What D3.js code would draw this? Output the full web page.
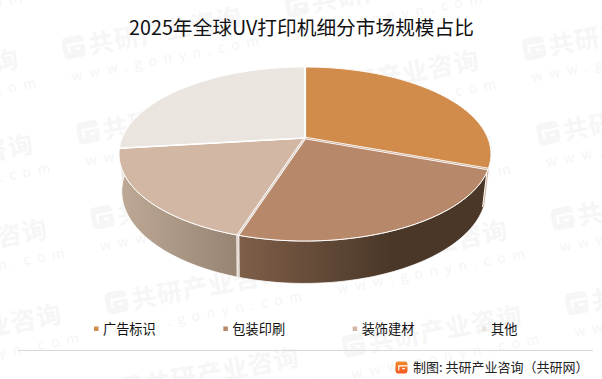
<!DOCTYPE html>
<html><head><meta charset="utf-8">
<script src="https://cdn.jsdelivr.net/npm/d3@7"></script>
<style>html,body{margin:0;padding:0;background:#fff}svg{display:block}text{font-family:"Noto Sans CJK SC","Noto Sans",sans-serif}</style>
</head><body><svg id="c" width="602" height="379"></svg>
<script>
const categories = ["广告标识","包装印刷","装饰建材","其他"];
const shares = [30.6,24.3,18.2,26.9];
const topColors = ["#d18c4c","#b8886a","#d2b7a4","#ebe5e0"];
const sideFrom = ["#4a3728","#7f5f49","#bca894","#ebe5e0"];
const sideTo = ["#4a3728","#4a3728","#978473","#ebe5e0"];
const seamColors = ["#c9a58c","#c9b5a5",null,null];
const titleText = "2025年全球UV打印机细分市场规模占比";
const sourceText = "制图: 共研产业咨询（共研网）";

const svg = d3.select("#c");
const defs = svg.append("defs");

// watermark lattice
const wm = svg.append("g");
const colStep = [223,-42], rowStep = [14.3,85];
function drawLogoShape(g, size, fill, cut){
  g.append("rect").attr("width",size).attr("height",size).attr("rx",size*0.2).attr("fill",fill);
  const s = d3.scaleLinear().domain([0,1]).range([0,size]);
  g.append("path").attr("fill","none").attr("stroke",cut).attr("stroke-width",Math.max(1.1,size*0.1))
    .attr("d",`M${s(.27)},${s(.74)}V${s(.36)}H${s(1.02)}M${s(.56)},${s(.6)}H${s(.78)}`);
}
for(let c=-1;c<=2;c++) for(let r=-1;r<=4;r++){
  const x = 65 + c*colStep[0] + r*rowStep[0];
  const y = 60 + c*colStep[1] + r*rowStep[1];
  const g = wm.append("g").attr("transform",`translate(${x},${y}) rotate(-10.7)`);
  const lg = g.append("g").attr("transform","translate(0,-22)");
  drawLogoShape(lg,22,"#f6f6f6","#fff");
  g.append("text").attr("x",26).attr("y",-1).attr("font-size",25).attr("font-weight",700).attr("letter-spacing",1)
    .attr("fill","#f6f6f6").text("共研产业咨询");
  g.append("text").attr("x",3).attr("y",22).attr("font-size",14).attr("letter-spacing",6.8)
    .attr("fill","#f5f5f5").text("www.gonyn.com");
}

// title
svg.append("text").attr("x",301.5).attr("y",35).attr("text-anchor","middle").attr("font-size",19.7)
  .attr("fill","#111").text(titleText);

// perspective disc
const cx=305, cy=138, b=182.8, a=84.06, k=0.184;
const shrink=0.98, lift=36.3, botShift=-1;
const projTop = t=>{const u=Math.sin(t),v=-Math.cos(t),w=1-k*v;return [cx+b*u/w, cy+a*v/w];};
const projBot = t=>{const u=Math.sin(t),v=-Math.cos(t),w=1-k*v;return [cx+botShift+b*shrink*u/w, cy+(a*shrink*v+lift)/w];};
const line = d3.line();
const arcs = d3.pie().sort(null).startAngle(0).endAngle(2*Math.PI)(shares);
const steps = d=>d3.range(0,61).map(i=>d.startAngle+(d.endAngle-d.startAngle)*i/60);

const chart = svg.append("g");
// sides
arcs.forEach((d,i)=>{
  const id="sg"+i;
  const gr=defs.append("linearGradient").attr("id",id).attr("gradientUnits","userSpaceOnUse")
    .attr("x1",i===2?122:238).attr("x2",i===2?237:392).attr("y1",0).attr("y2",0);
  gr.append("stop").attr("offset",0).attr("stop-color",sideFrom[i]);
  gr.append("stop").attr("offset",1).attr("stop-color",sideTo[i]);
  const ts=steps(d);
  const pts=ts.map(projTop).concat(ts.slice().reverse().map(projBot));
  chart.append("path").attr("d",line(pts)+"Z").attr("fill",`url(#${id})`)
    .attr("stroke","#fff").attr("stroke-width",0.8).attr("stroke-linejoin","round");
});
// side seams at the front-facing boundaries
arcs.forEach((d,i)=>{
  if(!seamColors[i]) return;
  const seg=[projTop(d.endAngle),projBot(d.endAngle)];
  chart.append("path").attr("d",line(seg)).attr("stroke","#fff").attr("stroke-width",3).attr("fill","none");
  chart.append("path").attr("d",line(seg)).attr("stroke",seamColors[i]).attr("stroke-width",0.9).attr("fill","none");
});
// top faces
arcs.forEach((d,i)=>{
  const pts=[[cx,cy]].concat(steps(d).map(projTop));
  chart.append("path").attr("d",line(pts)+"Z").attr("fill",topColors[i])
    .attr("stroke","#fff").attr("stroke-width",1).attr("stroke-linejoin","round");
});
// boundaries on the top face
arcs.forEach((d,i)=>{
  const seg=[[cx,cy],projTop(d.endAngle)];
  const wide=seamColors[i]?2.6:(i===3?2.2:1.5);
  chart.append("path").attr("d",line(seg)).attr("stroke","#fff").attr("stroke-width",wide).attr("fill","none");
  if(seamColors[i]) chart.append("path").attr("d",line(seg)).attr("stroke",seamColors[i]).attr("stroke-width",0.8).attr("fill","none");
});

// legend
const lx=d3.scaleLinear().domain([0,3]).range([94,482]);
const leg=svg.append("g");
categories.forEach((n,i)=>{
  leg.append("rect").attr("x",lx(i)).attr("y",326.5).attr("width",4.5).attr("height",4.5).attr("fill",topColors[i]);
  leg.append("text").attr("x",lx(i)+9).attr("y",334).attr("font-size",13.2).attr("fill","#111").text(n);
});

// footer
svg.append("line").attr("x1",18).attr("x2",593).attr("y1",350.5).attr("y2",350.5).attr("stroke","#d9d9d9").attr("stroke-width",1);
const fg=defs.append("linearGradient").attr("id","lg").attr("x1",0).attr("x2",0).attr("y1",0).attr("y2",1);
fg.append("stop").attr("offset",0).attr("stop-color","#f08a2c");
fg.append("stop").attr("offset",1).attr("stop-color","#f3591f");
drawLogoShape(svg.append("g").attr("transform","translate(395.5,361.5)"),12,"url(#lg)","#fff");
svg.append("text").attr("x",413).attr("y",372).attr("font-size",13).attr("fill","#222").text(sourceText);
</script></body></html>
